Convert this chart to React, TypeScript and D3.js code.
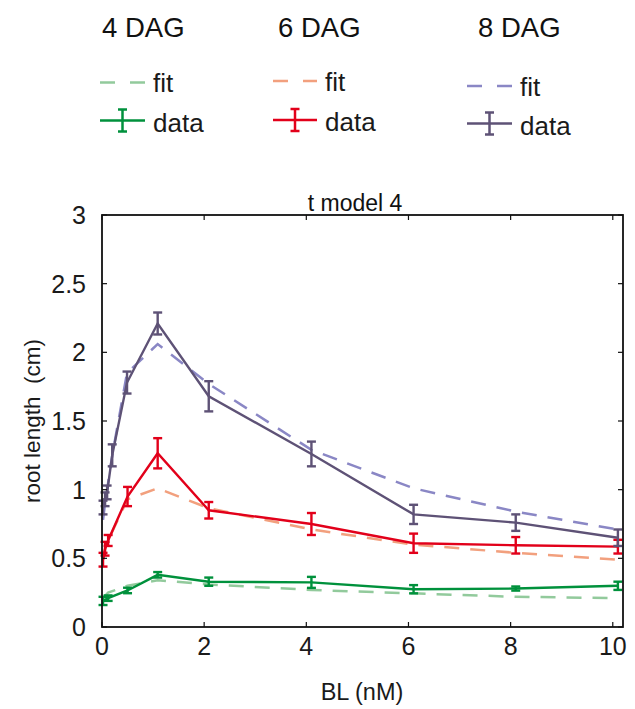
import React from "react";
import * as d3 from "d3";

const xTicks = [0, 2, 4, 6, 8, 10];
const yTicks = [0, 0.5, 1, 1.5, 2, 2.5, 3];

const greenX = [0.02, 0.12, 0.5, 1.09, 2.09, 4.1, 6.1, 8.1, 10.1];
const greenY = [0.19, 0.21, 0.266, 0.38, 0.33, 0.325, 0.275, 0.28, 0.3];
const greenErr = [0.03, 0.02, 0.02, 0.02, 0.03, 0.04, 0.03, 0.015, 0.03];
const greenFitX = [0.02, 0.12, 0.5, 1.09, 2.09, 4.1, 6.1, 8.1, 10.1];
const greenFit = [0.21, 0.25, 0.3, 0.34, 0.31, 0.27, 0.245, 0.22, 0.21];

const redX = [0.02, 0.06, 0.12, 0.5, 1.09, 2.09, 4.1, 6.1, 8.1, 10.1];
const redY = [0.49, 0.57, 0.63, 0.95, 1.265, 0.85, 0.75, 0.61, 0.595, 0.585];
const redErr = [0.05, 0.05, 0.04, 0.07, 0.11, 0.06, 0.08, 0.07, 0.06, 0.05];
const redFitX = [0.02, 0.06, 0.12, 0.5, 1.09, 2.09, 4.1, 6.1, 8.1, 10.1];
const redFit = [0.5, 0.57, 0.63, 0.93, 1.01, 0.865, 0.71, 0.6, 0.54, 0.49];

const purpleX = [0.02, 0.06, 0.1, 0.2, 0.49, 1.09, 2.09, 4.1, 6.1, 8.1, 10.1];
const purpleY = [0.87, 0.93, 0.98, 1.25, 1.78, 2.21, 1.68, 1.26, 0.82, 0.76, 0.65];
const purpleErr = [0.05, 0.05, 0.05, 0.08, 0.08, 0.08, 0.11, 0.09, 0.07, 0.06, 0.06];
const purpleFitX = [0.02, 0.06, 0.1, 0.2, 0.49, 1.09, 2.09, 4.1, 6.1, 8.1, 10.1];
const purpleFit = [0.78, 0.9, 1.0, 1.25, 1.85, 2.06, 1.77, 1.29, 1.01, 0.84, 0.71];

const legendTitles = ["4 DAG", "6 DAG", "8 DAG"];

const FONT = "'Liberation Sans', Arial, sans-serif";

const series = [
  { x: greenX, y: greenY, e: greenErr, fx: greenFitX, f: greenFit, c: "#00913c", fc: "#92ca9c" },
  { x: redX, y: redY, e: redErr, fx: redFitX, f: redFit, c: "#e2001a", fc: "#f2a07e" },
  { x: purpleX, y: purpleY, e: purpleErr, fx: purpleFitX, f: purpleFit, c: "#5e5276", fc: "#8a87c5" },
];

export default function App() {
  const W = 635, H = 709;
  const x = d3.scaleLinear().domain([0, 10.2]).range([102, 623]);
  const y = d3.scaleLinear().domain([0, 3]).range([627, 215]);
  const line = (xs: number[], ys: number[]) =>
    d3.line<number>().x((_, i) => x(xs[i])).y((v) => y(v))(ys) || "";
  const capW = 4.5;
  const tick = 5;

  const legCols = [
    { tx: 102, lx0: 100, lx1: 145, fitY: 82.5, fitBase: 91.5, dataY: 120.5, dataBase: 131.5 },
    { tx: 278, lx0: 273, lx1: 317, fitY: 81, fitBase: 91, dataY: 120, dataBase: 130.5 },
    { tx: 478, lx0: 467, lx1: 512, fitY: 86, fitBase: 95.5, dataY: 123.5, dataBase: 134.5 },
  ];

  return (
    <svg width={W} height={H} style={{ position: "absolute", left: 0, top: 0 }} fontFamily={FONT}>
      <rect width={W} height={H} fill="#fff" />
      {legCols.map((L, i) => (
        <g key={i}>
          <text x={L.tx} y={36.5} fontSize={27.5} fill="#111">{legendTitles[i]}</text>
          <line x1={L.lx0} x2={L.lx1} y1={L.fitY} y2={L.fitY} stroke={series[i].fc} strokeWidth={2.5} strokeDasharray="15 15" />
          <text x={L.lx1 + 8} y={L.fitBase} fontSize={26} fill="#1a1a1a">fit</text>
          <line x1={L.lx0} x2={L.lx1} y1={L.dataY} y2={L.dataY} stroke={series[i].c} strokeWidth={2.5} />
          <line x1={(L.lx0 + L.lx1) / 2} x2={(L.lx0 + L.lx1) / 2} y1={L.dataY - 11} y2={L.dataY + 11} stroke={series[i].c} strokeWidth={2.5} />
          <line x1={(L.lx0 + L.lx1) / 2 - capW} x2={(L.lx0 + L.lx1) / 2 + capW} y1={L.dataY - 11} y2={L.dataY - 11} stroke={series[i].c} strokeWidth={2.5} />
          <line x1={(L.lx0 + L.lx1) / 2 - capW} x2={(L.lx0 + L.lx1) / 2 + capW} y1={L.dataY + 11} y2={L.dataY + 11} stroke={series[i].c} strokeWidth={2.5} />
          <text x={L.lx1 + 8} y={L.dataBase} fontSize={26} fill="#1a1a1a">data</text>
        </g>
      ))}

      <text x={355} y={211} fontSize={23} textAnchor="middle" fill="#111">t model 4</text>

      {series.map((s, i) => (
        <path key={"f" + i} d={line(s.fx, s.f)} fill="none" stroke={s.fc} strokeWidth={2.5} strokeDasharray="15 11" />
      ))}
      {series.map((s, i) => (
        <g key={"d" + i} stroke={s.c} strokeWidth={2.4} fill="none">
          <path d={line(s.x, s.y)} />
          {s.x.map((xv, j) => {
            const cx = x(xv);
            const y0 = y(s.y[j] - s.e[j]);
            const y1 = y(s.y[j] + s.e[j]);
            return (
              <g key={j}>
                <line x1={cx} x2={cx} y1={y0} y2={y1} />
                <line x1={cx - capW} x2={cx + capW} y1={y0} y2={y0} />
                <line x1={cx - capW} x2={cx + capW} y1={y1} y2={y1} />
              </g>
            );
          })}
        </g>
      ))}

      <rect x={102} y={215} width={521} height={412} fill="none" stroke="#111" strokeWidth={1.8} />
      {xTicks.map((t) => (
        <g key={"x" + t}>
          <line x1={x(t)} x2={x(t)} y1={627} y2={627 - tick} stroke="#111" strokeWidth={1.2} />
          <line x1={x(t)} x2={x(t)} y1={215} y2={215 + tick} stroke="#111" strokeWidth={1.2} />
          <text x={x(t)} y={655} fontSize={25} textAnchor="middle" fill="#1a1a1a">{t}</text>
        </g>
      ))}
      {yTicks.map((t) => (
        <g key={"y" + t}>
          <line x1={102} x2={102 + tick} y1={y(t)} y2={y(t)} stroke="#111" strokeWidth={1.2} />
          <line x1={623} x2={623 - tick} y1={y(t)} y2={y(t)} stroke="#111" strokeWidth={1.2} />
          <text x={86} y={y(t) + 9} fontSize={25} textAnchor="end" fill="#1a1a1a">{t}</text>
        </g>
      ))}
      <text x={362} y={700} fontSize={23.5} textAnchor="middle" fill="#1a1a1a">BL (nM)</text>
      <text transform="translate(40,421) rotate(-90)" fontSize={22.5} textAnchor="middle" fill="#1a1a1a" style={{ whiteSpace: "pre" }}>{"root length  (cm)"}</text>
    </svg>
  );
}
